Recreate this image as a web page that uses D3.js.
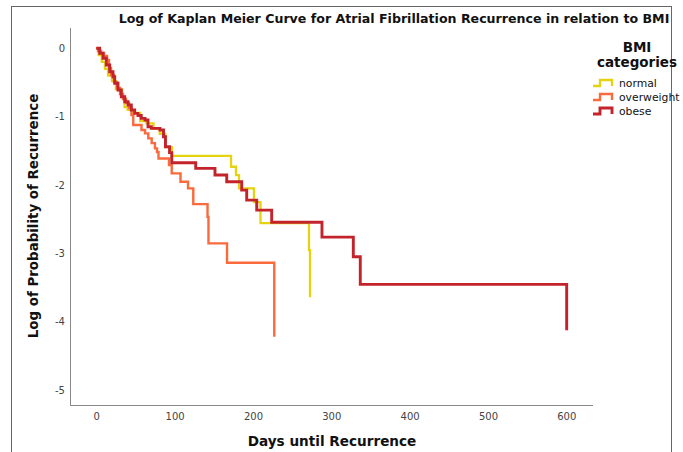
<!DOCTYPE html>
<html>
<head>
<meta charset="utf-8">
<script src="https://cdn.jsdelivr.net/npm/d3@7"></script>
<style>
  html, body { margin: 0; padding: 0; background: #fff; }
  svg { display: block; }
</style>
</head>
<body>
<svg id="chart" width="683" height="452"></svg>
<script>
// ---- data ----
const categories = ["normal", "overweight", "obese"];
const colors = ["#e5d310", "#fb6a3c", "#c3232b"];

// step drop times (days) and log-survival values after each drop
const normalDays = [0, 3, 7, 11, 15, 20, 25, 33, 36, 40, 46, 56, 64, 73, 81, 88, 96.6, 172, 178.3, 182.2, 201.3, 209.6, 271.5, 272.8];
const normalLog  = [0, -0.10, -0.20, -0.30, -0.40, -0.48, -0.60, -0.71, -0.86, -0.90, -0.947, -1.064, -1.10, -1.18, -1.25, -1.445, -1.573, -1.733, -1.855, -2.05, -2.25, -2.558, -2.953, -3.641];

const overweightDays = [0, 2.2, 6, 9.8, 13.7, 16.2, 18.8, 22.6, 26.4, 30.3, 34.1, 37.9, 41.7, 44.9, 47.2, 57.7, 62.2, 66.4, 70.7, 74.9, 77.5, 79.4, 92.8, 96.3, 107.5, 117.1, 123.8, 142, 143.2, 166.9, 227.2];
const overweightLog  = [0, -0.04, -0.069, -0.113, -0.171, -0.288, -0.391, -0.493, -0.581, -0.669, -0.742, -0.801, -0.874, -0.977, -1.123, -1.196, -1.245, -1.318, -1.387, -1.464, -1.518, -1.613, -1.709, -1.830, -1.953, -2.050, -2.28, -2.466, -2.855, -3.139, -4.222];

const obeseDays = [0, 4.3, 8.6, 12.8, 17.1, 21.3, 23.5, 27.7, 31.9, 36.3, 40.5, 44.7, 49.0, 53.2, 57.4, 62.2, 66, 70.2, 81.3, 85.8, 88.3, 93.5, 96.3, 126.9, 151.5, 166.5, 185.6, 192, 204.8, 223.9, 288.1, 328.1, 337, 600.5];
const obeseLog  = [0, -0.073, -0.146, -0.245, -0.343, -0.416, -0.512, -0.611, -0.709, -0.782, -0.830, -0.903, -0.952, -0.984, -1.025, -1.050, -1.148, -1.171, -1.196, -1.294, -1.441, -1.526, -1.675, -1.757, -1.855, -1.953, -2.075, -2.221, -2.368, -2.546, -2.763, -3.051, -3.455, -4.124];

const xTicks = [0, 100, 200, 300, 400, 500, 600];
const yTicks = [0, -1, -2, -3, -4, -5];

const titleText = "Log of Kaplan Meier Curve for Atrial Fibrillation Recurrence in relation to BMI";
const xLabel = "Days until Recurrence";
const yLabel = "Log of Probability of Recurrence";
const legendTitle = ["BMI", "categories"];

// ---- chart ----
const svg = d3.select("#chart");
const FONT = "'DejaVu Sans', Verdana, sans-serif";

const x = d3.scaleLinear().domain([0, 600]).range([96.3, 566.3]);
const y = d3.scaleLinear().domain([0, -5]).range([48.3, 390]);

// outer frame
svg.append("rect").attr("x", 11.5).attr("y", 6.5).attr("width", 660).attr("height", 460)
  .attr("fill", "none").attr("stroke", "#666").attr("stroke-width", 1);

// axis lines
svg.append("line").attr("x1", 70.5).attr("x2", 70.5).attr("y1", 28).attr("y2", 405.5)
  .attr("stroke", "#888").attr("stroke-width", 1);
svg.append("line").attr("x1", 70).attr("x2", 593).attr("y1", 405.5).attr("y2", 405.5)
  .attr("stroke", "#888").attr("stroke-width", 1);

// axes (labels only)
const xAxis = d3.axisBottom(x).tickValues(xTicks).tickSize(0).tickPadding(0).tickFormat(d3.format("d"));
const gx = svg.append("g").attr("transform", "translate(0,413)").call(xAxis);
gx.select(".domain").remove();
gx.selectAll("text").attr("font-family", FONT).attr("font-size", 10).attr("fill", "#444").attr("dy", "0.71em");

const yAxis = d3.axisLeft(y).tickValues(yTicks).tickSize(0).tickPadding(0).tickFormat(d => d === 0 ? "0" : "-" + Math.abs(d));
const gy = svg.append("g").attr("transform", "translate(65,0)").call(yAxis);
gy.select(".domain").remove();
gy.selectAll("text").attr("font-family", FONT).attr("font-size", 10).attr("fill", "#444");

// curves
const series = [
  { name: categories[0], days: normalDays, vals: normalLog, color: colors[0], w: 2.3 },
  { name: categories[1], days: overweightDays, vals: overweightLog, color: colors[1], w: 2.4 },
  { name: categories[2], days: obeseDays, vals: obeseLog, color: colors[2], w: 2.9 }
];
const line = d3.line().x(d => x(d[0])).y(d => y(d[1])).curve(d3.curveStepAfter);
series.forEach(s => {
  const pts = s.days.map((t, i) => [t, s.vals[i]]);
  svg.append("path").attr("d", line(pts)).attr("fill", "none")
    .attr("stroke", s.color).attr("stroke-width", s.w).attr("stroke-linejoin", "miter");
});

// title
svg.append("text").attr("x", 394).attr("y", 23).attr("text-anchor", "middle")
  .attr("font-family", FONT).attr("font-weight", "bold").attr("font-size", 12.6).attr("fill", "#111")
  .text(titleText);

// axis titles
svg.append("text").attr("x", 332).attr("y", 446).attr("text-anchor", "middle")
  .attr("font-family", FONT).attr("font-weight", "bold").attr("font-size", 13.6).attr("fill", "#111")
  .text(xLabel);
svg.append("text").attr("transform", "translate(38,216) rotate(-90)").attr("text-anchor", "middle")
  .attr("font-family", FONT).attr("font-weight", "bold").attr("font-size", 13.4).attr("fill", "#111")
  .text(yLabel);

// legend
const lg = svg.append("g");
legendTitle.forEach((t, i) => {
  lg.append("text").attr("x", 637).attr("y", 52 + i * 15).attr("text-anchor", "middle")
    .attr("font-family", FONT).attr("font-weight", "bold").attr("font-size", 13.5).attr("fill", "#111").text(t);
});
series.forEach((s, i) => {
  const cy = 83 + i * 14;
  lg.append("path").attr("d", `M593,${cy + 3}H600V${cy - 3}H612V${cy + 3}`)
    .attr("fill", "none").attr("stroke", s.color).attr("stroke-width", s.w);
  lg.append("text").attr("x", 619).attr("y", cy).attr("dy", "0.35em")
    .attr("font-family", FONT).attr("font-size", 10.8).attr("fill", "#111").text(s.name);
});
</script>
</body>
</html>
